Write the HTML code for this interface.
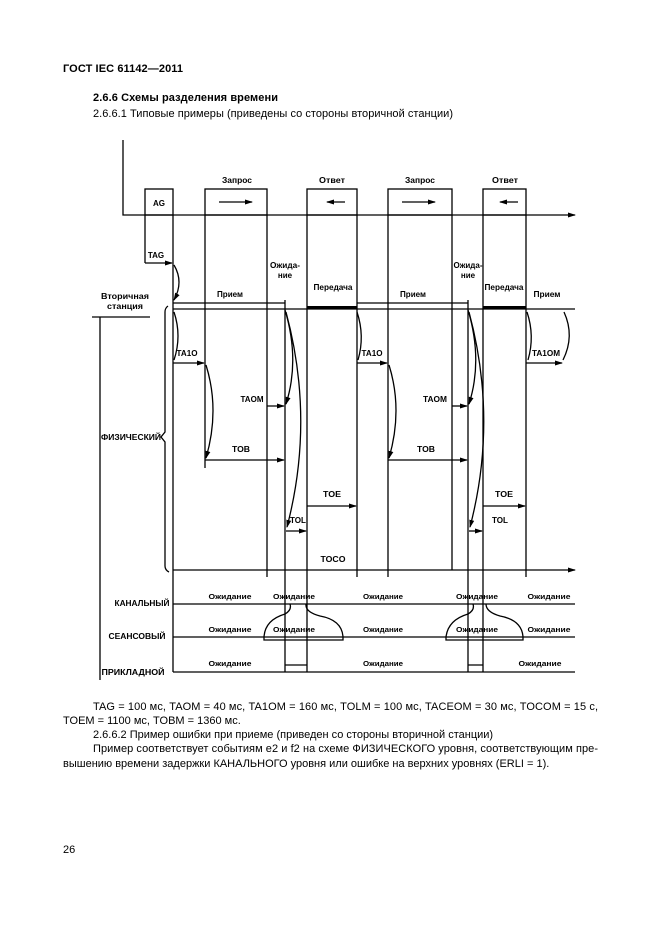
<!DOCTYPE html>
<html><head><meta charset="utf-8"><style>html,body{margin:0;padding:0;background:#fff}svg{display:block}</style></head><body>
<svg width="661" height="935" viewBox="0 0 661 935" xmlns="http://www.w3.org/2000/svg" font-family="Liberation Sans, sans-serif">
<defs><marker id="a" markerWidth="8" markerHeight="6" refX="7" refY="3" orient="auto" markerUnits="userSpaceOnUse"><path d="M0,0.5 L8,3 L0,5.5z" fill="#000"/></marker></defs>
<g fill="#000">
<text x="63" y="72" font-size="11" font-weight="bold" textLength="120" lengthAdjust="spacing">ГОСТ IEC 61142—2011</text>
<text x="93" y="101" font-size="11" font-weight="bold" textLength="185" lengthAdjust="spacing">2.6.6  Схемы разделения времени</text>
<text x="93" y="117" font-size="11" textLength="360" lengthAdjust="spacing">2.6.6.1 Типовые примеры (приведены со стороны вторичной станции)</text>
<text x="93" y="710" font-size="11" textLength="505" lengthAdjust="spacing">TAG = 100 мс, TAOM = 40 мс, TA1OM = 160 мс, TOLM = 100 мс, TACEOM = 30 мс, TOCOM = 15 с,</text>
<text x="63" y="724" font-size="11">TOEM = 1100 мс, TOBM = 1360 мс.</text>
<text x="93" y="738" font-size="11">2.6.6.2 Пример ошибки при приеме (приведен со стороны вторичной станции)</text>
<text x="93" y="752" font-size="11" textLength="505" lengthAdjust="spacing">Пример соответствует событиям е2 и f2 на схеме ФИЗИЧЕСКОГО уровня, соответствующим пре-</text>
<text x="63" y="767" font-size="11">вышению времени задержки КАНАЛЬНОГО уровня или ошибке на верхних уровнях (ERLI = 1).</text>
<text x="63" y="853" font-size="11">26</text>
</g>
<g stroke="#000" stroke-width="1.3" fill="none">
<path d="M123,140 V215 H575" marker-end="url(#a)"/>
<rect x="145" y="189" width="28" height="26"/>
<rect x="205" y="189" width="62" height="26"/>
<rect x="307" y="189" width="50" height="26"/>
<rect x="388" y="189" width="64" height="26"/>
<rect x="483" y="189" width="43" height="26"/>
<path d="M219,202 H252" marker-end="url(#a)"/><path d="M345,202 H327" marker-end="url(#a)"/>
<path d="M402,202 H435" marker-end="url(#a)"/><path d="M518,202 H500" marker-end="url(#a)"/>
<path d="M145,215 V263 M173,215 V672 M205,215 V468 M267,215 V577 M285,300 V672 M307,215 V672 M357,215 V577 M388,215 V577 M452,215 V570 M468,300 V672 M483,215 V672 M526,215 V577"/>
<path d="M173,303 H285 M357,303 H468"/>
<path d="M173,309 H575"/>
<path d="M307,307.5 H357 M483,307.5 H526" stroke-width="3"/>
<path d="M92,317 H150 M100,317 V680"/>
<path d="M145,263 H172" marker-end="url(#a)"/>
<path d="M174,265 Q184,282 174,300" marker-end="url(#a)"/>
<path d="M174,312 Q182,336 174,360"/>
<path d="M173,363 H204" marker-end="url(#a)"/>
<path d="M206,365 Q220,410 206,458" marker-end="url(#a)"/>
<path d="M267,406 H284" marker-end="url(#a)"/>
<path d="M205,460 H284" marker-end="url(#a)"/>
<path d="M285,310 Q300,360 286,404" marker-end="url(#a)"/>
<path d="M286,312 Q315,420 287,527" marker-end="url(#a)"/>
<path d="M307,506 H356" marker-end="url(#a)"/>
<path d="M286,531 H306" marker-end="url(#a)"/>
<path d="M357,312 Q365,336 358,360"/>
<path d="M357,363 H387" marker-end="url(#a)"/>
<path d="M389,365 Q403,410 389,458" marker-end="url(#a)"/>
<path d="M452,406 H467" marker-end="url(#a)"/>
<path d="M388,460 H467" marker-end="url(#a)"/>
<path d="M468,310 Q483,360 469,404" marker-end="url(#a)"/>
<path d="M469,312 Q498,420 470,527" marker-end="url(#a)"/>
<path d="M483,506 H525" marker-end="url(#a)"/>
<path d="M469,531 H482" marker-end="url(#a)"/>
<path d="M527,312 Q535,336 528,360"/>
<path d="M526,363 H562" marker-end="url(#a)"/>
<path d="M564,312 Q575,336 563,360"/>
<path d="M173,570 H575" marker-end="url(#a)"/>
<path d="M168,306 Q165,308 165,312 V432 L161,437 L165,442 V566 Q165,570 169,572"/>
<path d="M173,604 H575 M173,637 H575 M173,672 H575"/>
<path d="M285,665 H307 M468,665 H483"/>
<path d="M290,604 Q292,610 285,614 Q265,620 264,637 V640 H343 V637 Q342,620 320,616 Q305,612 306,604"/>
<path d="M473,604 Q475,610 468,614 Q448,620 446,637 V640 H523 V637 Q522,620 500,616 Q486,612 486,604"/>
</g>
<g fill="#000" font-size="8" font-weight="bold" text-anchor="middle" lengthAdjust="spacingAndGlyphs">
<text x="159" y="206">AG</text>
<text x="237" y="183" textLength="30" lengthAdjust="spacingAndGlyphs">Запрос</text>
<text x="332" y="183" textLength="26" lengthAdjust="spacingAndGlyphs">Ответ</text>
<text x="420" y="183" textLength="30" lengthAdjust="spacingAndGlyphs">Запрос</text>
<text x="505" y="183" textLength="26" lengthAdjust="spacingAndGlyphs">Ответ</text>
<text x="156" y="258">TAG</text>
<text x="285" y="268" textLength="30" lengthAdjust="spacingAndGlyphs">Ожида-</text><text x="285" y="278">ние</text>
<text x="468" y="268" textLength="29" lengthAdjust="spacingAndGlyphs">Ожида-</text><text x="468" y="278">ние</text>
<text x="333" y="290" textLength="39" lengthAdjust="spacingAndGlyphs">Передача</text>
<text x="504" y="290" textLength="39" lengthAdjust="spacingAndGlyphs">Передача</text>
<text x="230" y="297" textLength="26" lengthAdjust="spacingAndGlyphs">Прием</text>
<text x="413" y="297" textLength="26" lengthAdjust="spacingAndGlyphs">Прием</text>
<text x="547" y="297" textLength="27" lengthAdjust="spacingAndGlyphs">Прием</text>
<text x="125" y="299" textLength="48" lengthAdjust="spacingAndGlyphs">Вторичная</text>
<text x="125" y="309" textLength="36" lengthAdjust="spacingAndGlyphs">станция</text>
<text x="187" y="356" textLength="21" lengthAdjust="spacingAndGlyphs">TA1O</text>
<text x="372" y="356" textLength="21" lengthAdjust="spacingAndGlyphs">TA1O</text>
<text x="546" y="356" textLength="28" lengthAdjust="spacingAndGlyphs">TA1OM</text>
<text x="252" y="402" textLength="23" lengthAdjust="spacingAndGlyphs">TAOM</text>
<text x="435" y="402" textLength="24" lengthAdjust="spacingAndGlyphs">TAOM</text>
<text x="131" y="440" textLength="60" lengthAdjust="spacingAndGlyphs">ФИЗИЧЕСКИЙ</text>
<text x="241" y="452" textLength="18" lengthAdjust="spacingAndGlyphs">TOB</text>
<text x="426" y="452" textLength="18" lengthAdjust="spacingAndGlyphs">TOB</text>
<text x="332" y="497" textLength="18" lengthAdjust="spacingAndGlyphs">TOE</text>
<text x="504" y="497" textLength="18" lengthAdjust="spacingAndGlyphs">TOE</text>
<text x="298" y="523" textLength="16" lengthAdjust="spacingAndGlyphs">TOL</text>
<text x="500" y="523" textLength="16" lengthAdjust="spacingAndGlyphs">TOL</text>
<text x="333" y="562" textLength="25" lengthAdjust="spacingAndGlyphs">TOCO</text>
<text x="142" y="606" textLength="55" lengthAdjust="spacingAndGlyphs">КАНАЛЬНЫЙ</text>
<text x="137" y="639" textLength="57" lengthAdjust="spacingAndGlyphs">СЕАНСОВЫЙ</text>
<text x="133" y="675" textLength="63" lengthAdjust="spacingAndGlyphs">ПРИКЛАДНОЙ</text>
<g font-size="7.5">
<text x="230" y="599" textLength="43" lengthAdjust="spacingAndGlyphs">Ожидание</text>
<text x="294" y="599" textLength="42" lengthAdjust="spacingAndGlyphs">Ожидание</text>
<text x="383" y="599" textLength="40" lengthAdjust="spacingAndGlyphs">Ожидание</text>
<text x="477" y="599" textLength="42" lengthAdjust="spacingAndGlyphs">Ожидание</text>
<text x="549" y="599" textLength="43" lengthAdjust="spacingAndGlyphs">Ожидание</text>
<text x="230" y="632" textLength="43" lengthAdjust="spacingAndGlyphs">Ожидание</text>
<text x="294" y="632" textLength="42" lengthAdjust="spacingAndGlyphs">Ожидание</text>
<text x="383" y="632" textLength="40" lengthAdjust="spacingAndGlyphs">Ожидание</text>
<text x="477" y="632" textLength="42" lengthAdjust="spacingAndGlyphs">Ожидание</text>
<text x="549" y="632" textLength="43" lengthAdjust="spacingAndGlyphs">Ожидание</text>
<text x="230" y="666" textLength="43" lengthAdjust="spacingAndGlyphs">Ожидание</text>
<text x="383" y="666" textLength="40" lengthAdjust="spacingAndGlyphs">Ожидание</text>
<text x="540" y="666" textLength="43" lengthAdjust="spacingAndGlyphs">Ожидание</text>
</g>
</g>
</svg>
</body></html>
